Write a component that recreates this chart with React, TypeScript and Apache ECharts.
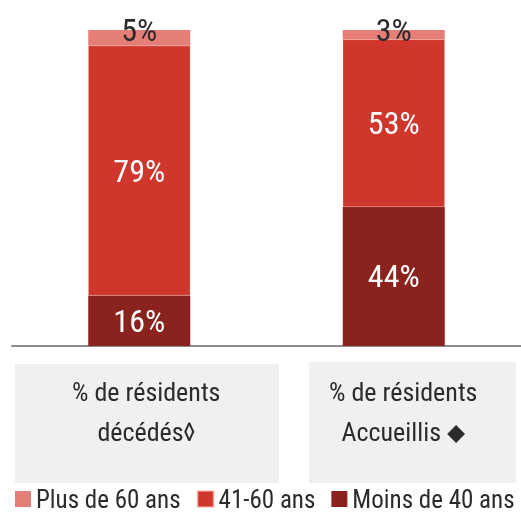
import React, { useEffect, useRef } from "react";
import * as echarts from "echarts";

const categories = ["% de résidents\ndécédés◊", "% de résidents\nAccueillis ⬥"];
const seriesNames = ["Moins de 40 ans", "41-60 ans", "Plus de 60 ans"];
const moins40 = [16, 44];
const de41a60 = [79, 53];
const plus60 = [5, 3];
const legendOrder = ["Plus de 60 ans", "41-60 ans", "Moins de 40 ans"];

const FONT = '"Roboto Condensed", "DejaVu Sans Condensed", sans-serif';
const colors = ["#8a231d", "#cf372c", "#e47e77"];

export default function App() {
  const ref = useRef<HTMLDivElement>(null);
  useEffect(() => {
    const chart = echarts.init(ref.current!, undefined, { renderer: "svg" });
    const valueLabel = (color: string) => ({
      show: true,
      position: "inside" as const,
      color,
      fontFamily: FONT,
      fontSize: 32,
      formatter: (p: any) => p.value + "%",
    });
    chart.setOption({
      animation: false,
      textStyle: { fontFamily: FONT },
      grid: { left: 12, top: 30, width: 512, bottom: 167, containLabel: false },
      graphic: [
        { type: "rect", shape: { x: 15, y: 364, width: 264, height: 119 }, style: { fill: "#f0f0f0" }, z: -1 },
        { type: "rect", shape: { x: 309, y: 362, width: 207, height: 121 }, style: { fill: "#f0f0f0" }, z: -1 },
      ],
      xAxis: {
        type: "category",
        data: categories,
        axisLine: { show: true, lineStyle: { color: "#8c8c8c", width: 2 } },
        axisTick: { show: false },
        axisLabel: {
          interval: 0,
          margin: 26,
          color: "#2b2b2b",
          fontFamily: FONT,
          fontSize: 26,
          lineHeight: 40,
          formatter: (v: string, i: number) => {
            const tag = i === 0 ? "a" : "b";
            return v.split("\n").map((l) => `{${tag}|${l}}`).join("\n");
          },
          rich: {
            a: { fontFamily: FONT, fontSize: 26, lineHeight: 40, color: "#2b2b2b", padding: [0, 0, 0, 14] },
            b: { fontFamily: FONT, fontSize: 26, lineHeight: 40, color: "#2b2b2b", padding: [0, 0, 0, 19] },
          },
        },
      },
      yAxis: { type: "value", min: 0, max: 100, show: false, splitLine: { show: false } },
      legend: {
        data: legendOrder,
        left: 15,
        top: 486,
        width: 506,
        icon: "rect",
        itemWidth: 16,
        itemHeight: 16,
        itemGap: 16,
        padding: 0,
        textStyle: { fontFamily: FONT, fontSize: 25, lineHeight: 26, color: "#2b2b2b" },
      },
      series: [
        { name: seriesNames[0], type: "bar", stack: "t", data: moins40, barWidth: 102, itemStyle: { color: colors[0] }, label: valueLabel("#ffffff") },
        { name: seriesNames[1], type: "bar", stack: "t", data: de41a60, barWidth: 102, itemStyle: { color: colors[1], borderColor: "rgba(255,180,170,0.5)", borderWidth: 0.5 }, label: valueLabel("#ffffff") },
        {
          name: seriesNames[2], type: "bar", stack: "t", data: plus60, barWidth: 102,
          itemStyle: { color: colors[2] },
          label: { ...valueLabel("#2b2b2b"), position: "top", distance: -16 },
        },
      ],
    });
    return () => chart.dispose();
  }, []);
  return <div ref={ref} style={{ position: "fixed", left: 0, top: 0, width: 521, height: 513 }} />;
}
